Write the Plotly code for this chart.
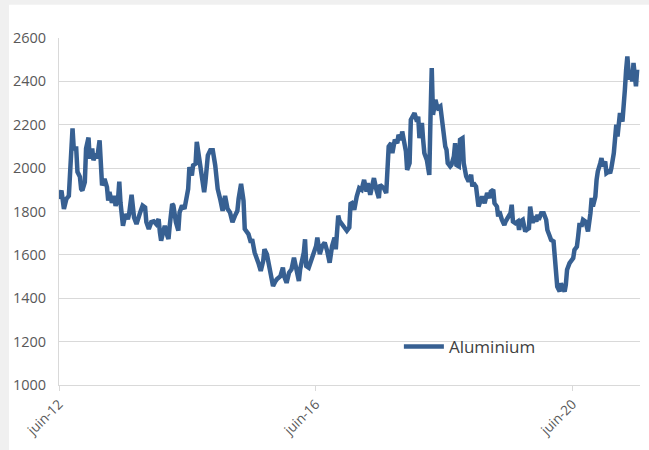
import numpy as np
import pandas as pd
import plotly.graph_objects as go

# Weekly aluminium price series (USD/t), sampled by week number from 1 June 2012
start_date = "2012-06-01"

weeks = [
    0, 2, 4, 6, 8, 11, 12, 14, 15, 17, 18, 19, 21, 22, 24, 25, 27, 28, 30, 31,
    33, 34, 35, 37, 39, 40, 41, 43, 45, 46, 48, 49, 50, 52, 54, 56, 57, 59, 60, 61,
    63, 65, 66, 68, 70, 71, 73, 75, 77, 79, 81, 82, 83, 85, 86, 88, 89, 90, 92, 93,
    95, 97, 98, 100, 102, 104, 105, 106, 108, 109, 111, 112, 114, 116, 118, 119, 121, 123, 125, 127,
    129, 131, 133, 135, 137, 139, 141, 143, 145, 146, 148,
    150, 151, 154, 156, 157, 159, 162, 164, 166, 167, 169, 171, 172, 174, 176, 177, 180, 182, 183, 185,
    187, 189, 191, 193, 195, 196, 199, 200, 201, 203, 205, 207, 209, 210, 212, 214, 216, 218, 220, 222,
    224, 225, 227, 228, 230, 232, 234, 236, 237,
    238, 240, 242, 244, 246, 248, 250, 251, 253, 255, 256, 258, 260, 261, 264, 266, 267, 268, 270, 271,
    273, 275, 276, 278, 279, 281, 282, 283, 285, 286, 288, 289, 291, 292, 293, 295, 296, 297, 299, 300,
    301, 302, 303, 304, 306, 307, 308, 310, 311, 312, 314, 315, 316, 318, 319, 321, 322, 323, 325, 326,
    328, 329, 330, 331, 333, 335, 336, 337, 339, 340, 341,
    344, 346, 348, 350, 351, 353, 354, 356, 357, 358, 360, 362, 363, 365, 367, 368, 369, 371, 373, 374,
    375, 377, 379, 380, 382, 383, 385, 386, 388, 389, 390, 392, 394, 396, 397, 399, 400, 402, 404, 405,
    407, 408, 409, 411, 412, 413, 415, 417, 418, 419, 421, 422, 423, 425, 426, 428, 429, 430, 432, 433,
    434, 436, 437, 438, 440, 441, 442, 444, 445, 447, 448, 449, 451, 452, 453, 454, 455, 456, 458, 459,
    460, 461, 462, 463, 464, 465, 466, 467, 468, 469, 470,
]

aluminium = [
    1858, 1897, 1812, 1858, 1872, 2183, 2090, 2090, 1983, 1960, 1904, 1897, 1935, 2090, 2141, 2044, 2090, 2036, 2067, 2044,
    2128, 2030, 1920, 1950, 1912, 1850, 1890, 1840, 1872, 1826, 1858, 1938, 1840, 1734, 1788, 1765, 1788, 1877, 1803, 1773,
    1742, 1788, 1796, 1827, 1819, 1751, 1719, 1751, 1755, 1742, 1765, 1704, 1665, 1712, 1734, 1689, 1673, 1734, 1835, 1827,
    1751, 1712, 1796, 1827, 1812, 1873, 1904, 2005, 1966, 2013, 2020, 2121, 2044, 1974, 1889, 1935, 2059, 2082, 2082, 2013,
    1904, 1858, 1803, 1872, 1812, 1796, 1751, 1780, 1803, 1858, 1928,
    1850, 1719, 1696, 1657, 1673, 1611, 1564, 1526, 1572, 1626, 1603, 1533, 1502, 1456, 1479, 1487, 1502, 1541, 1502, 1471,
    1518, 1533, 1587, 1541, 1479, 1533, 1611, 1672, 1549, 1541, 1572, 1618, 1641, 1680, 1603, 1641, 1657, 1618, 1564, 1641,
    1680, 1626, 1781, 1757, 1742, 1719, 1711, 1726, 1835,
    1838, 1808, 1869, 1908, 1900, 1946, 1892, 1931, 1877, 1938, 1954, 1900, 1862, 1923, 1908, 1885, 2008, 2100, 2115, 2069,
    2131, 2115, 2154, 2131, 2169, 2100, 2077, 1992, 2023, 2223, 2238, 2254, 2215, 2238, 2138, 2208, 2131, 2069, 2038, 1992,
    1969, 2238, 2461, 2246, 2315, 2292, 2277, 2285, 2238, 2177, 2100, 2085, 2023, 2008, 2015, 2054, 2115, 2015, 2008, 2131,
    2138, 2023, 1977, 1962, 1938, 1969, 1915, 1931, 1915, 1877, 1823,
    1869, 1838, 1885, 1862, 1892, 1900, 1838, 1823, 1777, 1800, 1762, 1738, 1754, 1777, 1792, 1831, 1754, 1746, 1754, 1715,
    1754, 1762, 1708, 1715, 1723, 1823, 1746, 1777, 1754, 1785, 1762, 1792, 1792, 1762, 1715, 1685, 1669, 1662, 1546, 1454,
    1431, 1469, 1454, 1431, 1462, 1531, 1562, 1577, 1585, 1623, 1638, 1685, 1738, 1738, 1762, 1754, 1723, 1708, 1792, 1862,
    1823, 1869, 1946, 1985, 2023, 2046, 2008, 2031, 1977, 1985, 1977, 2000, 2069, 2162, 2200, 2146, 2208, 2254, 2215, 2269,
    2362, 2454, 2515, 2446, 2408, 2438, 2400, 2485, 2438, 2377, 2454,
]

tick_dates = ["2012-06-01", "2016-06-01", "2020-06-01"]
tick_labels = ["juin-12", "juin-16", "juin-20"]
y_ticks = [1000, 1200, 1400, 1600, 1800, 2000, 2200, 2400, 2600]

dates = pd.Timestamp(start_date) + pd.to_timedelta(np.array(weeks) * 7, unit="D")

LINE_BLUE = "#376092"
GRID = "#d9d9d9"
TEXT = "#595959"

fig = go.Figure()
fig.add_trace(go.Scatter(
    x=dates, y=aluminium, mode="lines", name="Aluminium",
    line=dict(color=LINE_BLUE, width=4.5),
))

# white chart area over a light grey page
fig.add_shape(type="rect", xref="paper", yref="paper",
              x0=-0.086, x1=1.02, y0=-0.2, y1=1.096,
              fillcolor="white", line_width=0, layer="below")

fig.update_layout(
    width=649, height=450,
    margin=dict(l=59, r=9, t=38, b=65),
    paper_bgcolor="#f0f0f0",
    plot_bgcolor="rgba(0,0,0,0)",
    font=dict(family="Open Sans", size=14, color=TEXT),
    showlegend=True,
    legend=dict(x=0.585, y=0.11, xanchor="left", yanchor="middle",
                bgcolor="rgba(0,0,0,0)", itemwidth=40,
                font=dict(size=17, color="#404040")),
    xaxis=dict(
        type="date",
        range=["2012-06-01", "2021-06-20"],
        tickvals=tick_dates, ticktext=tick_labels,
        tickangle=-45,
        showgrid=False, zeroline=False,
        showline=True, linecolor=GRID, linewidth=1,
        ticks="outside", ticklen=5, tickcolor=GRID,
        tickfont=dict(size=13.5, color=TEXT),
    ),
    yaxis=dict(
        range=[1000, 2600],
        tickvals=y_ticks,
        showgrid=True, gridcolor=GRID, gridwidth=1,
        zeroline=False,
        showline=True, linecolor=GRID, linewidth=1,
        ticks="", ticklabelstandoff=9,
        tickfont=dict(size=14.5, color=TEXT),
    ),
)

fig.write_html("out.html")
